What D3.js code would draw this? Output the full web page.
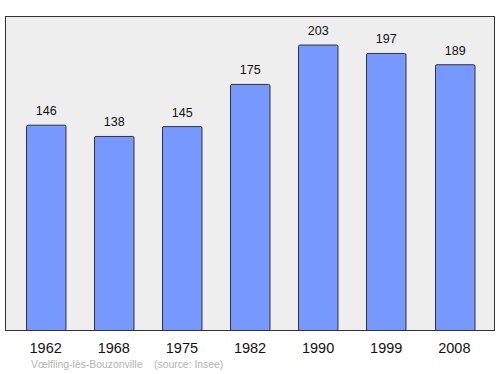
<!DOCTYPE html>
<html>
<head>
<meta charset="utf-8">
<script src="https://cdn.jsdelivr.net/npm/d3@7"></script>
<style>
body { margin: 0; background: #fff; }
text { font-family: "Liberation Sans", Arial, sans-serif; }
</style>
</head>
<body>
<div id="chart"></div>
<script>
var years = ["1962", "1968", "1975", "1982", "1990", "1999", "2008"];
var population = [146, 138, 145, 175, 203, 197, 189];
var footer = "Vœlfling-lès-Bouzonville    (source: Insee)";

var width = 500, height = 374;
var frame = { left: 5.5, top: 16.5, right: 494.5, bottom: 330.5 };

var svg = d3.select("#chart").append("svg")
    .attr("width", width)
    .attr("height", height);

// plot background
svg.append("rect")
    .attr("x", frame.left)
    .attr("y", frame.top)
    .attr("width", frame.right - frame.left)
    .attr("height", frame.bottom - frame.top)
    .attr("fill", "#eeeeee")
    .attr("stroke", "none");

var x = d3.scaleBand()
    .domain(years)
    .range([frame.left, frame.right])
    .paddingInner(0.42)
    .paddingOuter(0.3);

var y = d3.scaleLinear()
    .domain([0, d3.max(population) * 1.1])
    .range([frame.bottom, frame.top]);

var data = years.map(function (d, i) {
    return { year: d, value: population[i] };
});

svg.selectAll(".bar")
    .data(data)
    .enter().append("rect")
    .attr("class", "bar")
    .attr("x", function (d) { return Math.round(x(d.year)) + 0.5; })
    .attr("y", function (d) { return y(d.value); })
    .attr("width", x.bandwidth())
    .attr("height", function (d) { return frame.bottom - y(d.value); })
    .attr("rx", 1.5)
    .attr("fill", "#7799ff")
    .attr("stroke", "#333333")
    .attr("stroke-width", 1);

// value labels
svg.selectAll(".val")
    .data(data)
    .enter().append("text")
    .attr("class", "val")
    .attr("x", function (d) { return Math.round(x(d.year)) + 0.5 + x.bandwidth() / 2; })
    .attr("y", function (d) { return y(d.value) - 10; })
    .attr("text-anchor", "middle")
    .attr("font-size", 12.5)
    .attr("fill", "#111")
    .text(function (d) { return d.value; });

// frame border
svg.append("rect")
    .attr("x", frame.left)
    .attr("y", frame.top)
    .attr("width", frame.right - frame.left)
    .attr("height", frame.bottom - frame.top)
    .attr("fill", "none")
    .attr("stroke", "#333333")
    .attr("stroke-width", 1);

// x axis labels
var xAxis = d3.axisBottom(x).tickSize(0).tickPadding(0);
var gx = svg.append("g")
    .attr("transform", "translate(0," + frame.bottom + ")")
    .call(xAxis);
gx.select(".domain").remove();
gx.selectAll("text")
    .attr("dy", null)
    .attr("y", 22)
    .attr("font-size", 14.5)
    .attr("font-family", "Liberation Sans, Arial, sans-serif")
    .attr("fill", "#111");

svg.append("text")
    .attr("x", 31)
    .attr("y", 368)
    .attr("font-size", 10.4)
    .attr("fill", "#b3b3b3")
    .attr("xml:space", "preserve")
    .style("white-space", "pre")
    .text(footer);
</script>
</body>
</html>
